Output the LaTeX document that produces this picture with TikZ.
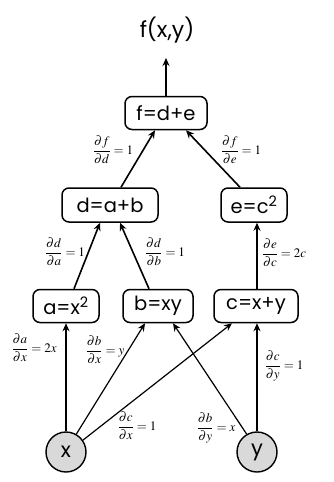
\documentclass[tikz,border=0pt]{standalone}
\usepackage{amsmath}
\usepackage{mathptmx}
\usepackage{fontspec}
\setmainfont{Poppins}
\usetikzlibrary{arrows.meta}
\begin{document}
\begin{tikzpicture}[x=1pt,y=-1pt,
  box/.style={draw,line width=1.5pt,rounded corners=7pt,inner sep=0pt,font=\fontsize{19.5}{21}\selectfont},
  var/.style={draw,line width=1.4pt,circle,fill=black!15,minimum size=40pt,inner sep=0pt,font=\fontsize{21}{23}\selectfont},
  edge/.style={-{Stealth[length=8pt,width=7pt]},line width=1.6pt},
  thin edge/.style={-{Stealth[length=8pt,width=7pt]},line width=1.2pt},
  lbl/.style={font=\fontsize{13}{14}\selectfont,inner sep=0pt}]
\useasboundingbox (0,0) rectangle (334,482);
\node[font=\fontsize{22}{24}\selectfont] (out) at (167,30) {f(x,y)};
\node[box,minimum width=82pt,minimum height=33pt] (f) at (166,113) {f=d+e};
\node[box,minimum width=96pt,minimum height=34pt] (d) at (110,205) {d=a+b};
\node[box,minimum width=66pt,minimum height=34pt] (e) at (254,205) {e=c\textsuperscript{2}};
\node[box,minimum width=66pt,minimum height=33pt] (a) at (66,306) {a=x\textsuperscript{2}};
\node[box,minimum width=70pt,minimum height=33pt] (b) at (158,306) {b=xy};
\node[box,minimum width=84pt,minimum height=33pt] (c) at (256,306) {c=x+y};
\node[var] (x) at (66,452) {x};
\node[var] (y) at (257,452) {y};
\coordinate (top) at (166,58);
\draw[edge] (f.north) -- (top);
\draw[edge] (d.north -| 121,0) -- (f.south -| 155,0);
\draw[edge] (e.north -| 240,0) -- (f.south -| 186,0);
\draw[edge] (a.north -| 74,0) -- (d.south -| 100,0);
\draw[edge] (b.north -| 149,0) -- (d.south -| 120,0);
\draw[edge] (c.north -| 257,0) -- (e.south -| 257,0);
\draw[edge] (x.north) -- (a.south -| x.north);
\draw[thin edge] (x.60) -- (b.south -| 145,0);
\draw[thin edge] (x.35) -- (c.south -| 232,0);
\draw[thin edge] (y.120) -- (b.south -| 173,0);
\draw[edge] (y.north) -- (c.south -| y.north);
\node[lbl] (l1) at (113,150) {$\dfrac{\partial f}{\partial d}=1$};
\node[lbl] (l2) at (241,150) {$\dfrac{\partial f}{\partial e}=1$};
\node[lbl] (l3) at (65,252) {$\dfrac{\partial d}{\partial a}=1$};
\node[lbl] (l4) at (165,252) {$\dfrac{\partial d}{\partial b}=1$};
\node[lbl] (l5) at (284,253) {$\dfrac{\partial e}{\partial c}=2c$};
\node[lbl] (l6) at (34,348) {$\dfrac{\partial a}{\partial x}=2x$};
\node[lbl] (l7) at (105,350) {$\dfrac{\partial b}{\partial x}=y$};
\node[lbl] (l8) at (284,366) {$\dfrac{\partial c}{\partial y}=1$};
\node[lbl] (l9) at (137,426) {$\dfrac{\partial c}{\partial x}=1$};
\node[lbl] (l10) at (216,428) {$\dfrac{\partial b}{\partial y}=x$};
\end{tikzpicture}
\end{document}
